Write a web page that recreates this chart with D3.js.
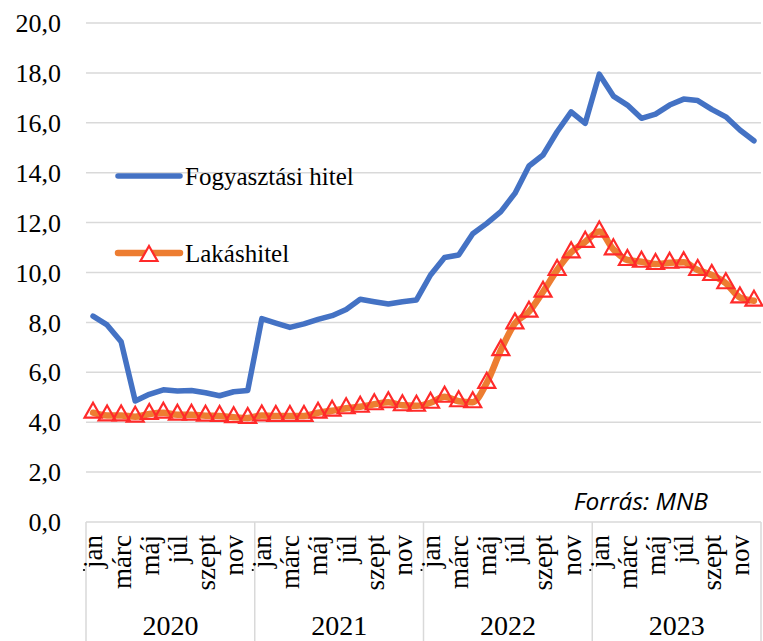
<!DOCTYPE html>
<html><head><meta charset="utf-8">
<script src="https://cdn.jsdelivr.net/npm/d3@7"></script>
<style>body{margin:0;background:#fff}svg{display:block}</style>
</head><body>
<svg id="c" width="763" height="641"></svg>
<script>
const years = ["2020","2021","2022","2023"];
const monthLabels = ["jan","márc","máj","júl","szept","nov"];
const monthLabelIdx = [0,2,4,6,8,10];
const yTicks = [0,2,4,6,8,10,12,14,16,18,20];
const seriesNames = ["Fogyasztási hitel","Lakáshitel"];
const fogyasztasi = [
  8.25,7.9,7.22,4.85,5.12,5.3,5.25,5.27,5.18,5.06,5.22,5.27,
  8.15,7.97,7.8,7.94,8.12,8.27,8.52,8.93,8.83,8.74,8.83,8.9,
  9.9,10.6,10.7,11.55,11.97,12.44,13.17,14.27,14.71,15.64,16.44,15.98,
  17.95,17.07,16.71,16.18,16.35,16.71,16.95,16.89,16.54,16.24,15.71,15.28];
const lakas = [
  4.38,4.27,4.27,4.22,4.33,4.38,4.3,4.3,4.26,4.25,4.2,4.17,
  4.27,4.25,4.25,4.25,4.38,4.46,4.56,4.62,4.72,4.8,4.68,4.66,
  4.78,5.02,4.84,4.8,5.58,6.89,7.96,8.43,9.23,10.1,10.81,11.23,
  11.64,10.93,10.5,10.43,10.34,10.39,10.41,10.1,9.9,9.57,9.0,8.87];

const svg = d3.select("#c");
const L = 86, R = 761, T = 23, B = 522;
const idx = d3.range(fogyasztasi.length);
const x = d3.scaleBand().domain(idx).range([L, R]);
const xc = i => x(i) + x.bandwidth()/2;
const y = d3.scaleLinear().domain([0,20]).range([B, T]);
const serif = "'Liberation Serif','Times New Roman',serif";

// gridlines
svg.append("g").selectAll("line").data(yTicks.filter(d=>d>0)).join("line")
  .attr("x1", L).attr("x2", R).attr("y1", d=>y(d)).attr("y2", d=>y(d))
  .attr("stroke", "#d9d9d9").attr("stroke-width", 1.5);
// y labels
svg.append("g").selectAll("text").data(yTicks).join("text")
  .attr("x", 61).attr("y", d=>y(d)).attr("dy","0.35em").attr("text-anchor","end")
  .attr("font-family", serif).attr("font-size", 26).attr("fill","#000")
  .text(d=>d3.format(".1f")(d).replace(".", ","));

// x axis line
svg.append("line").attr("x1", L).attr("x2", R).attr("y1", B).attr("y2", B)
  .attr("stroke", "#d9d9d9").attr("stroke-width", 1.5);
// year separators
const sepX = d3.range(years.length+1).map(k => k===years.length ? R : x(k*12));
svg.append("g").selectAll("line").data(sepX).join("line")
  .attr("x1", d=>d).attr("x2", d=>d).attr("y1", B).attr("y2", 641)
  .attr("stroke", "#d9d9d9").attr("stroke-width", 1.5);
svg.append("g").selectAll("circle").data(sepX.slice(0,4)).join("circle")
  .attr("cx", d=>d-2).attr("cy", 570).attr("r", 1.1).attr("fill","#000");

// month labels
const mData = [];
years.forEach((yr, k) => monthLabelIdx.forEach((m, j) => mData.push({i: k*12+m, t: monthLabels[j]})));
svg.append("g").selectAll("text").data(mData).join("text")
  .attr("transform", d=>`translate(${xc(d.i)},535) rotate(-90)`)
  .attr("dy","0.35em").attr("text-anchor","end")
  .attr("font-family", serif).attr("font-size", 27).attr("fill","#000")
  .text(d=>d.t);
// year labels
svg.append("g").selectAll("text").data(years).join("text")
  .attr("x", (d,k)=> (sepX[k]+sepX[k+1])/2).attr("y", 635).attr("text-anchor","middle")
  .attr("font-family", serif).attr("font-size", 28).attr("fill","#000")
  .text(d=>d);

// lines
const lineStraight = d3.line().x((d,i)=>xc(i)).y(d=>y(d));
const lineSmooth = d3.line().x((d,i)=>xc(i)).y(d=>y(d)).curve(d3.curveMonotoneX);
svg.append("path").datum(fogyasztasi).attr("d", lineStraight).attr("fill","none")
  .attr("stroke","#4472C4").attr("stroke-width",5.5).attr("stroke-linejoin","round").attr("stroke-linecap","round");
svg.append("path").datum(lakas).attr("d", lineSmooth).attr("fill","none")
  .attr("stroke","#ED7D31").attr("stroke-width",6.5).attr("stroke-linejoin","round").attr("stroke-linecap","round");
const tri = "M0,-10L8.5,5L-8.5,5Z";
svg.append("g").selectAll("path").data(lakas).join("path")
  .attr("transform",(d,i)=>`translate(${xc(i)},${y(d)})`).attr("d", tri)
  .attr("fill","none").attr("stroke","#FF2A2A").attr("stroke-width",2.2);

// legend
const lg = svg.append("g");
lg.append("line").attr("x1",118).attr("x2",180).attr("y1",176).attr("y2",176)
  .attr("stroke","#4472C4").attr("stroke-width",5.5).attr("stroke-linecap","round");
lg.append("text").attr("x",185).attr("y",185).attr("font-family",serif).attr("font-size",25).text(seriesNames[0]);
lg.append("line").attr("x1",118).attr("x2",180).attr("y1",253).attr("y2",253)
  .attr("stroke","#ED7D31").attr("stroke-width",6.5).attr("stroke-linecap","round");
lg.append("path").attr("transform","translate(149,256)").attr("d",tri)
  .attr("fill","#fff").attr("stroke","#FF2A2A").attr("stroke-width",2.2);
lg.append("text").attr("x",185).attr("y",262).attr("font-family",serif).attr("font-size",25).text(seriesNames[1]);

// source
svg.append("text").attr("x",708).attr("y",510).attr("text-anchor","end")
  .attr("font-family","'Open Sans',sans-serif").attr("font-style","italic").attr("font-size",24.5)
  .text("Forrás: MNB");
</script>
</body></html>
